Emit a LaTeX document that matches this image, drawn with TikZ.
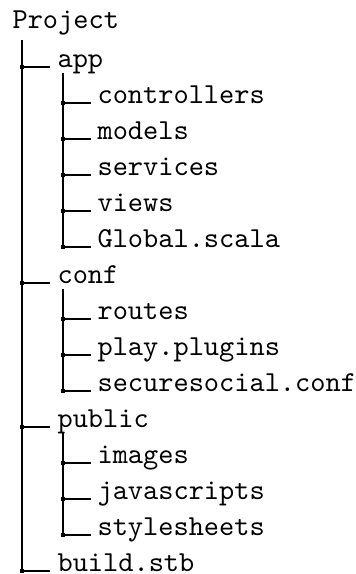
\documentclass[tikz,border=0pt]{standalone}
\usetikzlibrary{positioning}
\tikzset{
  every picture/.style={font=\ttfamily, line width=0.4pt},
  entry/.style={anchor=base west, inner sep=0pt, text=black},
  dot/.style={fill=black, minimum size=1.4pt, inner sep=0pt},
  branch/.style={draw=black, line width=0.4pt},
}

\begin{document}
\begin{tikzpicture}[x=0.3454pt, y=-0.3454pt]
  \useasboundingbox (0,0) rectangle (356,574);
  \node[entry] (root) at (12,28) {Project};
  \coordinate (root-s) at (22,40);

  % ---- first level
  \foreach \n/\k/\t in {app/0/app, conf/6/conf, public/10/public, build/14/build.stb}
    { \node[entry] (\n) at (57,67+36*\k) {\t};
      \coordinate (\n-j) at (22,67+36*\k);
      \coordinate (\n-s) at (63,73+36*\k);
      \draw[branch, shorten >=2.4pt] (\n-j) -- (\n.base west);
      \node[dot] at (\n-j) {}; }
  \draw[branch] (root-s) -- (build-j);

  % ---- app
  \foreach \k/\t in {1/controllers, 2/models, 3/services, 4/views, 5/Global.scala}
    { \node[entry] (app\k) at (97,67+36*\k) {\t};
      \coordinate (app\k-j) at (63,67+36*\k);
      \draw[branch, shorten >=2.1pt] (app\k-j) -- (app\k.base west);
      \node[dot] at (app\k-j) {}; }
  \draw[branch] (app-s) -- (app5-j);

  % ---- conf
  \foreach \k/\t in {7/routes, 8/play.plugins, 9/securesocial.conf}
    { \node[entry] (conf\k) at (97,67+36*\k) {\t};
      \coordinate (conf\k-j) at (63,67+36*\k);
      \draw[branch, shorten >=2.1pt] (conf\k-j) -- (conf\k.base west);
      \node[dot] at (conf\k-j) {}; }
  \draw[branch] (conf-s) -- (conf9-j);

  % ---- public
  \foreach \k/\t in {11/images, 12/javascripts, 13/stylesheets}
    { \node[entry] (public\k) at (97,67+36*\k) {\t};
      \coordinate (public\k-j) at (63,67+36*\k);
      \draw[branch, shorten >=2.1pt] (public\k-j) -- (public\k.base west);
      \node[dot] at (public\k-j) {}; }
  \draw[branch] (public-s) -- (public13-j);
\end{tikzpicture}
\end{document}
